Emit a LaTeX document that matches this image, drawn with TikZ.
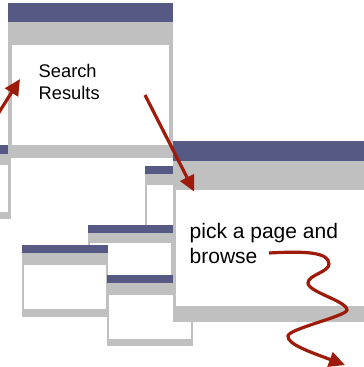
\documentclass[tikz,border=0pt]{standalone}
\usepackage{fontspec}
\setmainfont{Liberation Sans}
\usetikzlibrary{arrows.meta}
\definecolor{winblue}{RGB}{87,89,133}
\definecolor{wingray}{RGB}{192,192,192}
\definecolor{arrowred}{RGB}{158,27,10}
% #1 x1, #2 y1, #3 x2, #4 y2, #5 blue bottom, #6 white top, #7 white bottom, #8 side inset
\newcommand{\appwin}[8]{%
  \fill[wingray] (#1,#2) rectangle (#3,#4);
  \fill[winblue] (#1,#2) rectangle (#3,#5);
  \fill[white] (#1+#8,#6) rectangle (#3-#8,#7);
}
\begin{document}
\begin{tikzpicture}[x=1pt,y=-1pt,
  redarrow/.style={draw=arrowred, line width=3.2pt, -{Triangle[length=16pt,width=15pt]}},
  lbl/.style={anchor=base west, inner sep=0pt, text=black}]
\clip (0,0) rectangle (364,367);
\fill[white] (0,0) rectangle (364,367);
% windows, back to front
\appwin{-30}{145}{10.5}{219}{154}{165}{212}{2.3}
\appwin{8.3}{3}{172.5}{158}{21.7}{45}{145}{3.4}
\appwin{145}{166}{200}{260}{174}{185}{250}{2.3}
\appwin{88}{225}{173}{290}{233}{243}{285}{2}
\appwin{22}{245}{108.3}{317}{253}{265}{309}{2}
\appwin{107}{275}{193}{346}{283}{295}{339}{2}
\appwin{173}{141}{380}{322}{161}{190}{306}{3}
% texts
\node[lbl, font=\fontsize{18.3}{22}\selectfont] (s1) at (38.5,77.3) {Search};
\node[lbl, font=\fontsize{18.3}{22}\selectfont] (s2) at (38.5,99) {Results};
\node[lbl, font=\fontsize{21}{25}\selectfont] (p1) at (189.5,238.5) {pick a page and};
\node[lbl, font=\fontsize{21}{25}\selectfont] (p2) at (189.5,263.3) {browse};
% arrows
\coordinate (a1s) at (-5,118.7);
\coordinate (a1e) at (20,79);
\coordinate (a2s) at (145,95);
\coordinate (a2e) at (194.3,191.7);
\coordinate (a3s) at (269,253);
\coordinate (a3e) at (345,365);
\draw[redarrow] (a1s) -- (a1e);
\draw[redarrow] (a2s) -- (a2e);
\draw[redarrow] (a3s) .. controls (305,251) and (329,252) .. (329,264)
  .. controls (329,272) and (308,275) .. (308,283)
  .. controls (308,292) and (347,301) .. (347,310)
  .. controls (347,316) and (288,329) .. (288,336)
  .. controls (287,344) and (310,352) .. (a3e);
\end{tikzpicture}
\end{document}
